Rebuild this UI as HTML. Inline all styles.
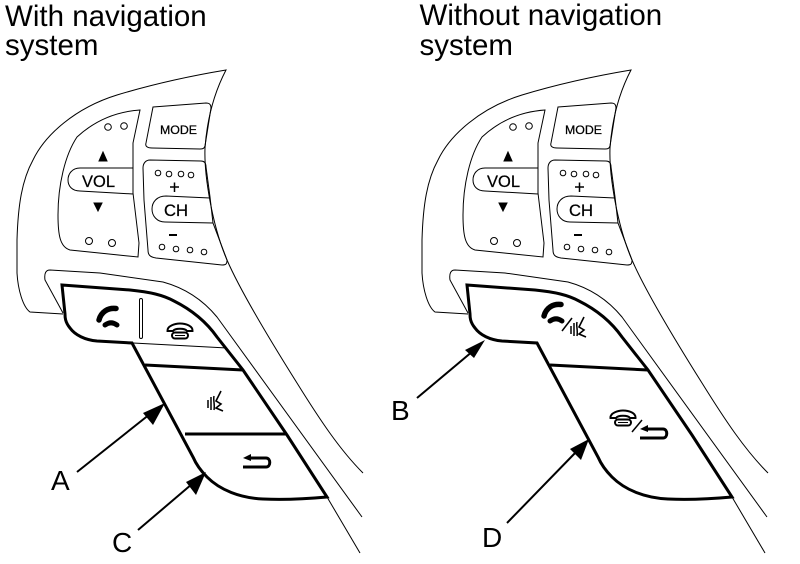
<!DOCTYPE html>
<html>
<head>
<meta charset="utf-8">
<style>
html,body{margin:0;padding:0;background:#fff}
svg{display:block}
text{font-family:"Liberation Sans",sans-serif;fill:#000}
.h{font-size:29.500px}
.l{font-size:28px}
.v{font-size:17px;stroke:#000;stroke-width:.25}
.m{font-size:12px;stroke:#000;stroke-width:.25}
</style>
</head>
<body>
<svg width="800" height="564" viewBox="0 0 800 564" xmlns="http://www.w3.org/2000/svg">
<defs>
<g id="wheel" fill="none" stroke="#000" stroke-width="1">
  <path d="M63 314L30 312C23 307 18 290 17 273L17 240C18 205 22 180 33 160C45 135 75 108 117 95C150 85 190 76 226 70C214 93 207 120 205 148C204 175 212 225 227 260C240 290 270 340 297 383C320 420 340 450 363 473"/>
  <path d="M63 313L45 280C44 273 46 270 50 270L100 273L163 282C185 288 203 300 217 317L362 517"/>
  <path d="M327 497L360 553"/>
  <path d="M140 110C110 112 90 125 77 137C65 155 58 185 58 215C58 235 60 247 70 250L138 257L139 243L133 193L133 143L140 110Z"/>
  <path d="M133 168H80C72 168 68 174 68 180C68 186 72 191 80 191L133 194"/>
  <path d="M153 107L206 103C210 103 211 105 211 108L205 146C204 149 202 149 200 149L152 148C147 148 145 146 146 143Z"/>
  <path d="M150 160L201 161C205 161 206 164 206 167L210 197L213 223L227 260C227 264 226 265 222 265L156 258C150 257 148 255 148 250L144 200L143 168C143 163 146 160 150 160Z"/>
  <path d="M210 198L166 196C157 196 152 202 152 209C152 216 157 222 165 222L213 223"/>
  <circle cx="108" cy="127" r="3.3"/><circle cx="124" cy="126" r="3.3"/>
  <circle cx="89" cy="241" r="3.5"/><circle cx="112" cy="243" r="3.5"/>
  <circle cx="158" cy="173" r="2.8"/><circle cx="169" cy="174" r="2.8"/><circle cx="181" cy="174" r="2.8"/><circle cx="191" cy="175" r="2.8"/>
  <circle cx="162" cy="247" r="2.8"/><circle cx="176" cy="249" r="2.8"/><circle cx="190" cy="250" r="2.8"/><circle cx="204" cy="252" r="2.8"/>
  <path d="M103 152L99 161H107Z" fill="#000"/>
  <path d="M98 211L94 203H102Z" fill="#000"/>
  <path d="M170 187H179M174.500 182.500V192" stroke-width="1.500"/>
  <path d="M169 235H177" stroke-width="2"/>
  <path d="M62 285L130 290C150 292 163 295 174 301C190 309 205 320 217 337L243 370L287 435L327 497C305 499 285 500 263 499C240 498 220 490 207 477C200 470 196 464 193 457L132 343L97 341C85 340 75 335 70 328C65 322 65 317 65 314Z" stroke-width="3"/>
  <path d="M145 365L243 370" stroke-width="3"/>
</g>
<g id="pickup" fill="none" stroke="#000" stroke-linecap="round">
  <path d="M116 308.500C108 307.500 101 312 99 320" stroke-width="5.500"/>
  <path d="M105 325C109 322 113 322 117 325" stroke-width="5"/>
</g>
<g id="hangup" fill="none" stroke="#000">
  <path d="M167.500 331C167 326 175 323.500 180 323.500C186 323.500 193 326 192.500 331L187 331C185 328 175 328 173 331Z" stroke-width="2"/>
  <rect x="172" y="332.500" width="16" height="6" rx="3" stroke-width="2"/>
  <path d="M175 335.500H185" stroke-width="1"/>
</g>
<g id="voice" fill="none" stroke="#000" stroke-width="1.500">
  <path d="M208 400V408M211 397V410M214 396C213 400 215 404 214 410"/>
  <path d="M221 391L216 401L221 404L216 408L223 411" stroke-width="1.600"/>
</g>
<g id="back" fill="none" stroke="#000">
  <path d="M243 467H266C271 467 271 458 266 458H250" stroke-width="3"/>
  <path d="M243 458L251 454V461Z" fill="#000" stroke="none"/>
</g>
</defs>

<text class="h" x="5" y="26">With navigation</text>
<text class="h" x="5" y="55">system</text>
<text class="h" x="419.500" y="25">Without navigation</text>
<text class="h" x="419.500" y="55">system</text>

<!-- left -->
<use href="#wheel"/>
<text class="v" x="82" y="187" textLength="33" lengthAdjust="spacingAndGlyphs">VOL</text>
<text class="m" x="160" y="134" textLength="37" lengthAdjust="spacingAndGlyphs">MODE</text>
<text class="v" x="164" y="216" textLength="24" lengthAdjust="spacingAndGlyphs">CH</text>
<rect x="139.500" y="298.500" width="3" height="40" rx="1.500" fill="#fff" stroke="#000"/>
<path d="M133 343L227 348" stroke="#000" stroke-width="1" fill="none"/>
<path d="M185 434H287" stroke="#000" stroke-width="3" fill="none"/>
<use href="#pickup"/>
<use href="#hangup"/>
<use href="#voice"/>
<use href="#back"/>
<path d="M77 472L150 414" stroke="#000" stroke-width="2"/>
<path d="M165 403L143 413L153 425Z" fill="#000"/>
<path d="M138 530L192 484" stroke="#000" stroke-width="2"/>
<path d="M206 472L186 482L196 495Z" fill="#000"/>
<text class="l" x="51" y="490">A</text>
<text class="l" x="112" y="552">C</text>

<!-- right -->
<g transform="translate(405 0)"><use href="#wheel"/></g>
<text class="v" x="487" y="187" textLength="33" lengthAdjust="spacingAndGlyphs">VOL</text>
<text class="m" x="565" y="134" textLength="37" lengthAdjust="spacingAndGlyphs">MODE</text>
<text class="v" x="569" y="216" textLength="24" lengthAdjust="spacingAndGlyphs">CH</text>
<g transform="translate(445 -4)"><use href="#pickup"/></g>
<path d="M562 331L572 318" stroke="#000" stroke-width="1.500"/>
<g transform="translate(363 -74)"><use href="#voice"/></g>
<g transform="translate(443 87)"><use href="#hangup"/></g>
<path d="M632 432L642 420" stroke="#000" stroke-width="1.500"/>
<g transform="translate(397 -29)"><use href="#back"/></g>
<path d="M417 398L473 351" stroke="#000" stroke-width="2"/>
<path d="M485 340L465 350L474 358Z" fill="#000"/>
<path d="M507 523L577 451" stroke="#000" stroke-width="2"/>
<path d="M589 439L570 449L581 460Z" fill="#000"/>
<text class="l" x="391" y="420">B</text>
<text class="l" x="482" y="547">D</text>
</svg>
</body>
</html>
